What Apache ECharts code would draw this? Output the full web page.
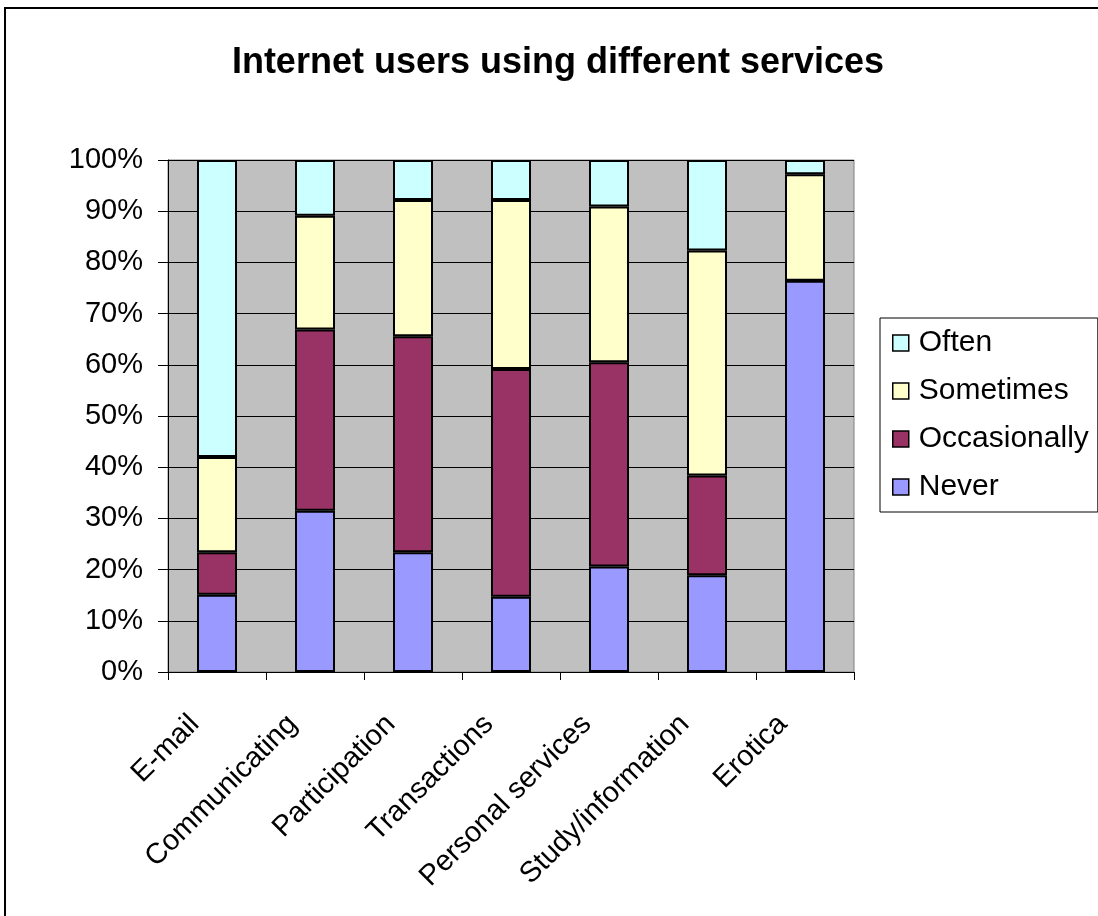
<!DOCTYPE html>
<html>
<head>
<meta charset="utf-8">
<script src="https://cdn.jsdelivr.net/npm/echarts@6/dist/echarts.min.js"></script>
<style>
  html, body { margin: 0; padding: 0; background: #fff; }
  #frame { position: absolute; left: 4px; top: 7px; width: 1100px; height: 920px; border: 2px solid #000; box-sizing: border-box; }
  #chart { position: absolute; left: 0; top: 0; width: 1098px; height: 916px; }
</style>
</head>
<body>
<div id="frame"></div>
<div id="chart"></div>
<script>
// Services and the share of users per frequency (percent of users)
const categories = ['E-mail', 'Communicating', 'Participation', 'Transactions', 'Personal services', 'Study/information', 'Erotica'];
const never        = [15.1, 31.5, 23.4, 14.7, 20.6, 18.9, 76.4];
const occasionally = [8.3, 35.4, 42.2, 44.5, 39.9, 19.5, 0];
const sometimes    = [18.6, 22.2, 26.6, 33.0, 30.4, 43.9, 20.8];
const often        = [58.0, 10.9, 7.8, 7.8, 9.1, 17.7, 2.8];
const yTicks = [0, 10, 20, 30, 40, 50, 60, 70, 80, 90, 100];

const FONT = '"Liberation Sans", Arial, sans-serif';

function stackSeries(name, data, color) {
  return {
    name: name,
    type: 'bar',
    stack: 'total',
    data: data,
    barWidth: 40,
    itemStyle: { color: color, borderColor: '#000', borderWidth: 2 },
    emphasis: { disabled: true }
  };
}

const chart = echarts.init(document.getElementById('chart'), null, { renderer: 'canvas' });
chart.setOption({
  animation: false,
  title: {
    text: 'Internet users using different services',
    left: 553, top: 40, textAlign: 'center',
    textStyle: { fontFamily: FONT, fontSize: 36, fontWeight: 'bold', color: '#000' }
  },
  legend: {
    data: ['Often', 'Sometimes', 'Occasionally', 'Never'],
    orient: 'vertical',
    left: 880, top: 318,
    padding: [9, 9, 9, 12],
    itemWidth: 16, itemHeight: 16, itemGap: 16,
    backgroundColor: '#fff', borderColor: '#000', borderWidth: 1, borderRadius: 0,
    icon: 'rect',
    itemStyle: { borderColor: '#000', borderWidth: 1.5 },
    textStyle: { fontFamily: FONT, fontSize: 30, color: '#000', lineHeight: 32, padding: [0, 0, 0, 5] }
  },
  grid: {
    left: 168, right: 244, top: 160, bottom: 244,
    show: true, backgroundColor: '#C0C0C0', borderColor: '#808080', borderWidth: 1
  },
  xAxis: {
    type: 'category',
    data: categories,
    axisLine: { lineStyle: { color: '#000', width: 1 } },
    axisTick: { show: true, alignWithLabel: false, length: 8, lineStyle: { color: '#000' } },
    axisLabel: {
      rotate: 45, interval: 0, margin: 70,
      align: 'right', verticalAlign: 'bottom',
      padding: [0, 0, 17, 0],
      fontFamily: FONT, fontSize: 29, color: '#000'
    }
  },
  yAxis: {
    type: 'value',
    min: 0, max: 100, interval: 10,
    axisLine: { show: true, lineStyle: { color: '#000', width: 1 } },
    axisTick: { show: true, length: 10, lineStyle: { color: '#000' } },
    splitLine: { show: true, lineStyle: { color: '#000', width: 1 } },
    axisLabel: {
      margin: 25,
      fontFamily: FONT, fontSize: 29, color: '#000',
      formatter: v => (yTicks.includes(v) ? v + '%' : '')
    }
  },
  series: [
    stackSeries('Never', never, '#9999FF'),
    stackSeries('Occasionally', occasionally, '#993366'),
    stackSeries('Sometimes', sometimes, '#FFFFCC'),
    stackSeries('Often', often, '#CCFFFF')
  ]
});
</script>
</body>
</html>
